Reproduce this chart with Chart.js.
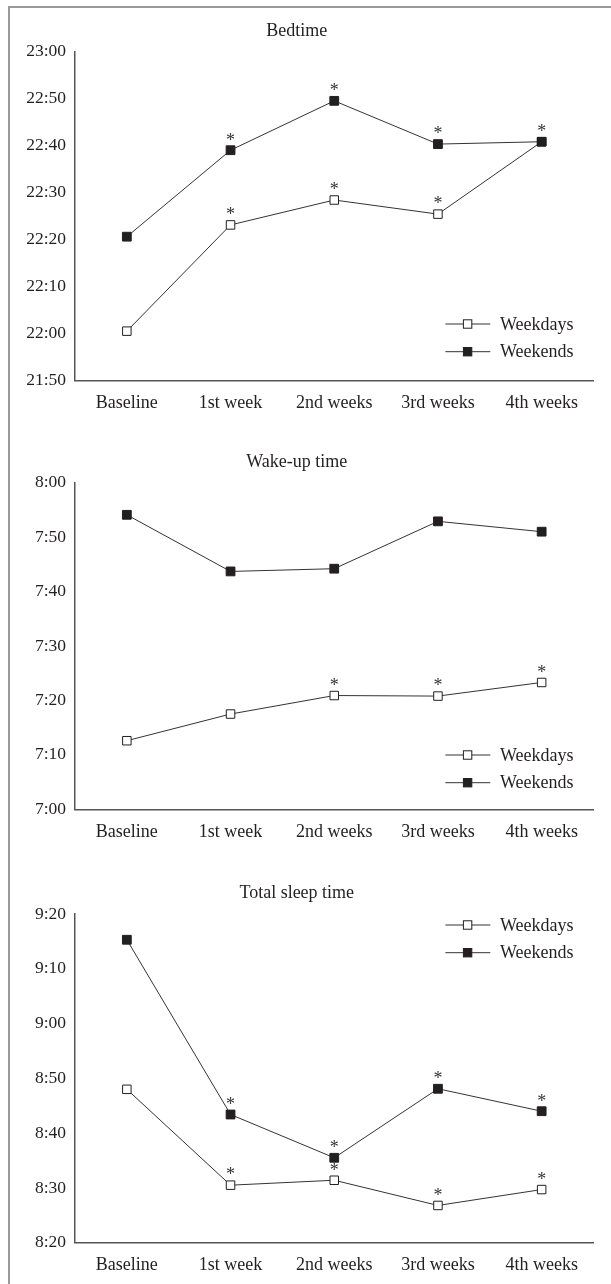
<!DOCTYPE html>
<html>
<head>
<meta charset="utf-8">
<script src="https://cdn.jsdelivr.net/npm/chart.js@4.4.0/dist/chart.umd.min.js"></script>
<style>
  body { margin: 0; background: #fff; width: 611px; height: 1284px; position: relative; overflow: hidden; }
  .frame { position: absolute; left: 8px; top: 6px; width: 620px; height: 1300px; border-top: 2px solid #9a9a9a; border-left: 2px solid #9a9a9a; }
  canvas { position: absolute; left: 0; }
</style>
</head>
<body>
<div class="frame"></div>
<canvas id="c1" style="top:0px"></canvas>
<canvas id="c2" style="top:425px"></canvas>
<canvas id="c3" style="top:850px"></canvas>
<script>
// ******************************************************** DATA
// times are in minutes after midnight
var categories = ['Baseline', '1st week', '2nd weeks', '3rd weeks', '4th weeks'];

var bedWeekdays  = [1320.5, 1343.1, 1348.4, 1345.4, 1360.8];
var bedWeekends  = [1340.6, 1359.0, 1369.5, 1360.3, 1360.8];
var bedSigWeekdays = [0, 1, 1, 1, 0];
var bedSigWeekends = [0, 1, 1, 1, 1];

var wakeWeekdays = [432.6, 437.5, 440.9, 440.8, 443.3];
var wakeWeekends = [474.1, 463.7, 464.2, 472.9, 471.0];
var wakeSigWeekdays = [0, 0, 1, 1, 1];
var wakeSigWeekends = [0, 0, 0, 0, 0];

var sleepWeekdays = [528.0, 510.5, 511.4, 506.8, 509.7];
var sleepWeekends = [555.3, 523.4, 515.5, 528.1, 524.0];
var sleepSigWeekdays = [0, 1, 1, 1, 1];
var sleepSigWeekends = [0, 1, 1, 1, 1];

var bedTicks   = [1310, 1380];   // 21:50 .. 23:00
var wakeTicks  = [420, 480];     // 7:00 .. 8:00
var sleepTicks = [500, 560];     // 8:20 .. 9:20

// ******************************************************** HELPERS
var FONT = "'Liberation Serif', 'DejaVu Serif', serif";
var INK = '#231f20';

function hhmm(v) {
  var h = Math.floor(v / 60), m = Math.round(v - h * 60);
  return h + ':' + (m < 10 ? '0' + m : m);
}

// asterisks above significant points
var starPlugin = {
  id: 'stars',
  afterDatasetsDraw: function (chart) {
    var ctx = chart.ctx;
    ctx.save();
    ctx.fillStyle = '#333';
    ctx.font = '18px ' + FONT;
    ctx.textAlign = 'center';
    ctx.textBaseline = 'alphabetic';
    chart.data.datasets.forEach(function (ds, i) {
      var meta = chart.getDatasetMeta(i);
      meta.data.forEach(function (pt, j) {
        if (ds.sig && ds.sig[j]) ctx.fillText('*', pt.x, pt.y - 4.7);
      });
    });
    ctx.restore();
  }
};

// line + marker legend inside the plot
var keyPlugin = {
  id: 'keyLegend',
  afterDraw: function (chart, args, opts) {
    var ctx = chart.ctx;
    ctx.save();
    opts.items.forEach(function (idx, k) {
      var ds = chart.data.datasets[idx];
      var y = opts.y[k];
      ctx.strokeStyle = ds.borderColor;
      ctx.lineWidth = 1;
      ctx.beginPath();
      ctx.moveTo(opts.x0, y); ctx.lineTo(opts.x1, y);
      ctx.stroke();
      var s = 4.2;
      ctx.fillStyle = ds.pointBackgroundColor;
      ctx.fillRect(opts.xm - s, y - s, 2 * s, 2 * s);
      ctx.strokeStyle = ds.pointBorderColor;
      ctx.strokeRect(opts.xm - s, y - s, 2 * s, 2 * s);
      ctx.fillStyle = INK;
      ctx.font = '18px ' + FONT;
      ctx.textAlign = 'left';
      ctx.textBaseline = 'middle';
      ctx.fillText(ds.label, opts.xt, y + 1);
    });
    ctx.restore();
  }
};

function makeChart(id, title, weekdays, weekends, sigD, sigE, range, box) {
  var canvas = document.getElementById(id);
  canvas.width = 611;
  canvas.height = box.h;
  var config = {
    type: 'line',
    data: {
      labels: categories,
      datasets: [{
        label: 'Weekdays',
        data: weekdays,
        sig: sigD,
        order: 1,
        borderColor: '#333',
        borderWidth: 1,
        pointStyle: 'rect',
        pointRadius: 6,
        pointBorderWidth: 1,
        pointBackgroundColor: '#fff',
        pointBorderColor: INK,
        tension: 0
      }, {
        label: 'Weekends',
        data: weekends,
        sig: sigE,
        order: 0,
        borderColor: '#333',
        borderWidth: 1,
        pointStyle: 'rect',
        pointRadius: 6.2,
        pointBorderWidth: 1,
        pointBackgroundColor: INK,
        pointBorderColor: INK,
        tension: 0
      }]
    },
    options: {
      responsive: false,
      animation: false,
      events: [],
      layout: { padding: { left: 0, right: 17.5, top: 0, bottom: 0 } },
      scales: {
        x: {
          offset: true,
          grid: { display: false, drawTicks: false },
          border: { display: true, color: '#555', width: 1.5 },
          ticks: { color: INK, font: { family: FONT, size: 18 }, padding: 12, maxRotation: 0, autoSkip: false },
          afterFit: function (s) { s.height = box.h - box.bottom; }
        },
        y: {
          min: range[0],
          max: range[1],
          grid: { display: false, drawTicks: false },
          border: { display: true, color: '#555', width: 1.5 },
          ticks: { stepSize: 10, color: INK, font: { family: FONT, size: 17.5 }, padding: 9,
                   callback: function (v) { return hhmm(v); } },
          afterFit: function (s) { s.width = 75; }
        }
      },
      plugins: {
        legend: { display: false },
        tooltip: { enabled: false },
        title: {
          display: true,
          text: title,
          color: INK,
          font: { family: FONT, size: 18, weight: 'normal', lineHeight: 1.2 },
          padding: { top: box.tc - 10.8, bottom: box.top - box.tc - 10.8 }
        },
        keyLegend: { items: [0, 1], x0: 445.4, x1: 490.3, xm: 467.6, xt: 500, y: box.key }
      }
    },
    plugins: [starPlugin, keyPlugin]
  };
  return new Chart(canvas.getContext('2d'), config);
}

// ******************************************************** CHARTS
makeChart('c1', 'Bedtime', bedWeekdays, bedWeekends, bedSigWeekdays, bedSigWeekends, bedTicks,
  { h: 425, tc: 31.7, top: 51.5, bottom: 380.5, key: [324, 351.7] });
makeChart('c2', 'Wake-up time', wakeWeekdays, wakeWeekends, wakeSigWeekdays, wakeSigWeekends, wakeTicks,
  { h: 425, tc: 37.7, top: 57.7, bottom: 384.3, key: [330, 357.7] });
makeChart('c3', 'Total sleep time', sleepWeekdays, sleepWeekends, sleepSigWeekdays, sleepSigWeekends, sleepTicks,
  { h: 434, tc: 43.3, top: 64, bottom: 392.7, key: [75, 102.7] });
</script>
</body>
</html>
